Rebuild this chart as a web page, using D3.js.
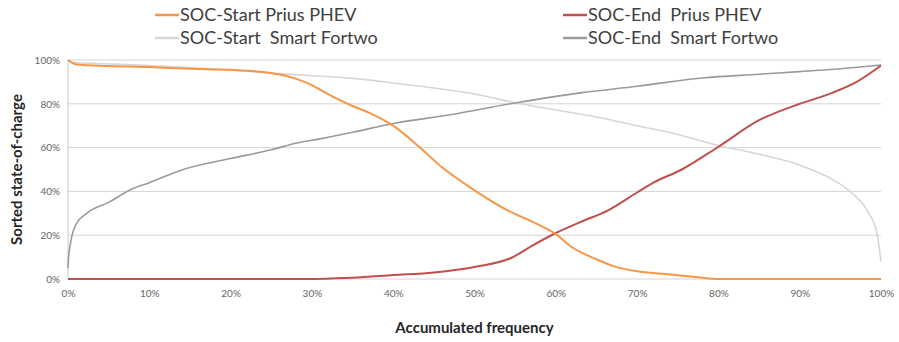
<!DOCTYPE html>
<html lang="en">
<head>
    <style>
        body { margin: 0; background: #fff; }
        svg { display: block; }
        text { font-family: Lato, "Open Sans", sans-serif; }
    </style>
</head>
<body>
    <svg width="899" height="342"></svg>
    <script src="https://cdn.jsdelivr.net/npm/d3@7"></script>
    <script>
        // Data (accumulated frequency % -> sorted SOC %)
        const startPriusX = [0, 1, 5, 10, 15, 20, 24, 26.5, 28, 30, 31, 33, 35, 37, 40, 43, 46, 50, 54, 57.5, 60, 62, 65, 67, 70, 73.5, 77.5, 80, 85, 90, 95, 100];
        const startPriusY = [100, 98, 97.3, 96.8, 96, 95.5, 94.5, 93, 91.5, 88.5, 86.5, 82.5, 79, 76, 70, 61, 51, 40.5, 31.5, 25.5, 20.5, 14.5, 9, 6, 3.5, 2.3, 0.8, 0, 0, 0, 0, 0];

        const endPriusX = [0, 10, 20, 30, 33, 35, 40, 45, 50, 54.5, 57, 60, 63, 66.5, 70, 72, 75.5, 80, 85, 90, 94, 97, 100];
        const endPriusY = [0, 0, 0, 0, 0.3, 0.6, 1.8, 3, 5.5, 9.6, 15, 21, 26, 31.5, 39.5, 44, 50, 60.4, 72.5, 80, 85, 90, 97.5];

        const startSmartX = [0, 0.5, 5, 10, 15, 20, 25, 30, 35, 40, 45, 50, 55, 60, 65, 70, 75, 80, 85, 90, 94, 96.5, 98.5, 99.5, 100];
        const startSmartY = [100, 99, 98.2, 97.5, 96.5, 95.5, 94, 92.8, 91.6, 89.5, 87.2, 84.5, 80.5, 77.2, 74, 70, 66, 61, 57, 52, 45.5, 39, 30, 21, 8];

        const endSmartX = [0, 0.05, 0.25, 0.5, 1, 2.3, 5, 8, 10, 14, 20, 25, 28, 31, 35, 40, 47, 55, 63, 70, 78, 85, 90, 95, 100];
        const endSmartY = [5, 9, 15, 20, 25, 30, 35, 41.3, 44, 49.8, 55, 59, 62, 64, 67, 71, 75, 80.4, 85, 88, 91.8, 93.5, 94.7, 96, 97.7];

        const seriesNames = ["SOC-Start Prius PHEV", "SOC-End  Prius PHEV", "SOC-Start  Smart Fortwo", "SOC-End  Smart Fortwo"];
        const xTicks = [0, 10, 20, 30, 40, 50, 60, 70, 80, 90, 100];
        const yTicks = [0, 20, 40, 60, 80, 100];

        const svg = d3.select("svg");
        const margin = { left: 68, right: 18, top: 60, bottom: 63 };
        const width = 899 - margin.left - margin.right;
        const height = 342 - margin.top - margin.bottom;

        const chart = svg.append("g").attr("transform", `translate(${margin.left}, ${margin.top})`);

        const x = d3.scaleLinear().domain([0, 100]).range([0, width]);
        const y = d3.scaleLinear().domain([0, 100]).range([height, 0]);

        // Gridlines
        chart.selectAll(".grid").data(yTicks).enter()
            .append("line")
            .attr("x1", 0).attr("x2", width)
            .attr("y1", d => y(d)).attr("y2", d => y(d))
            .style("stroke", "#d4d4d4").style("stroke-width", 1);

        // Axis line on the left
        chart.append("line")
            .attr("x1", 0).attr("x2", 0).attr("y1", 0).attr("y2", height)
            .style("stroke", "#c8c8c8");

        // Tick labels
        const yAxis = chart.append("g").call(d3.axisLeft(y).tickValues(yTicks).tickFormat(d => d + "%").tickSize(0).tickPadding(8));
        yAxis.select(".domain").remove();
        yAxis.selectAll("text").style("font-size", "10px").style("fill", "#666").style("font-family", "Lato, sans-serif");

        const xAxis = chart.append("g").attr("transform", `translate(0, ${height})`)
            .call(d3.axisBottom(x).tickValues(xTicks).tickFormat(d => d + "%").tickSize(0).tickPadding(11));
        xAxis.select(".domain").remove();
        xAxis.selectAll("text").style("font-size", "10px").style("fill", "#666").style("font-family", "Lato, sans-serif");

        // Lines
        const series = [
            { xs: startSmartX, ys: startSmartY, color: "#d6d6d6", w: 1.6 },
            { xs: endSmartX, ys: endSmartY, color: "#9a9a9a", w: 1.6 },
            { xs: endPriusX, ys: endPriusY, color: "#c0504d", w: 2 },
            { xs: startPriusX, ys: startPriusY, color: "#f79646", w: 2 }
        ];
        const line = d3.line().x(d => x(d[0])).y(d => y(d[1])).curve(d3.curveMonotoneX);
        chart.selectAll(".series").data(series).enter()
            .append("path")
            .attr("d", d => line(d.xs.map((v, i) => [v, d.ys[i]])))
            .style("fill", "none").style("stroke", d => d.color).style("stroke-width", d => d.w)
            .style("stroke-linejoin", "round");

        // Legend
        const legend = [
            { name: seriesNames[0], color: "#f79646", x: 155, y: 15 },
            { name: seriesNames[1], color: "#c0504d", x: 563, y: 15 },
            { name: seriesNames[2], color: "#d6d6d6", x: 155, y: 38 },
            { name: seriesNames[3], color: "#9a9a9a", x: 563, y: 38 }
        ];
        const items = svg.selectAll(".legend").data(legend).enter().append("g")
            .attr("transform", d => `translate(${d.x}, ${d.y})`);
        items.append("line").attr("x1", 0).attr("x2", 24).attr("y1", 0).attr("y2", 0)
            .style("stroke", d => d.color).style("stroke-width", 2.5);
        items.append("text").attr("x", 25).attr("y", 0).attr("dy", "0.36em")
            .style("font-size", "18px").style("fill", "#404040").style("white-space", "pre")
            .attr("xml:space", "preserve")
            .text(d => d.name);

        // Axis titles
        svg.append("text")
            .attr("transform", `translate(22, ${margin.top + height / 2}) rotate(-90)`)
            .attr("text-anchor", "middle")
            .style("font-size", "15px").style("font-weight", "bold").style("fill", "#262626")
            .text("Sorted state-of-charge");

        svg.append("text")
            .attr("x", margin.left + width / 2).attr("y", 333)
            .attr("text-anchor", "middle")
            .style("font-size", "15px").style("font-weight", "bold").style("fill", "#262626")
            .text("Accumulated frequency");
    </script>
</body>
</html>
